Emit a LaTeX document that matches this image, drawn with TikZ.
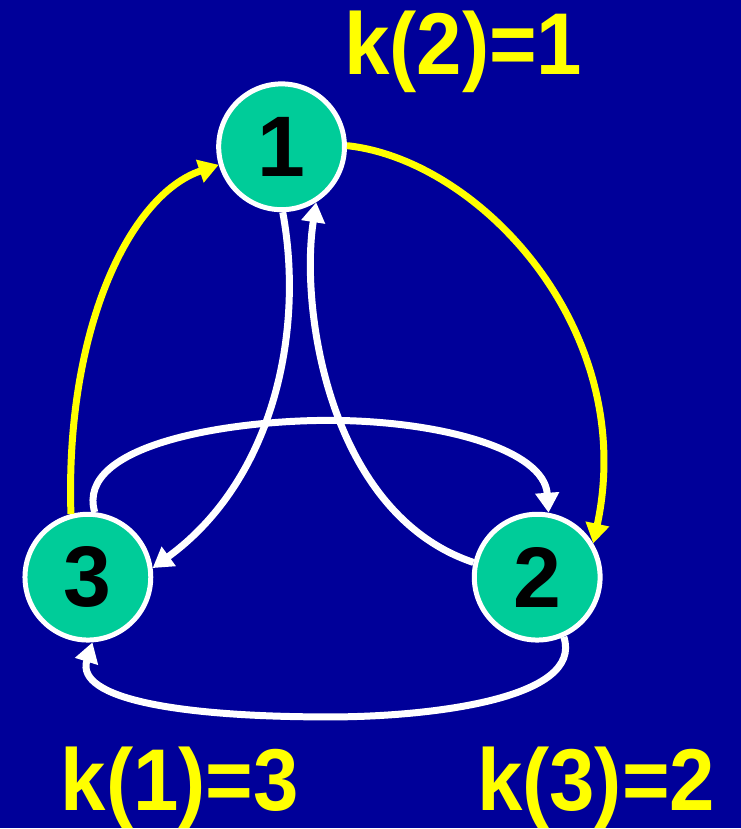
\documentclass[tikz,border=0pt]{standalone}
\definecolor{bgblue}{RGB}{0, 0, 153}
\definecolor{nodegreen}{RGB}{0, 204, 153}
\definecolor{arcyellow}{RGB}{255, 255, 0}
\usepackage{fontspec}
\setmainfont{Liberation Sans}
\usepackage{tikz}
\usetikzlibrary{arrows.meta}

\begin{document}
\begin{tikzpicture}[x=0.02cm, y=-0.02cm,
  vertex/.style={circle, draw=white, line width=0.1cm, fill=nodegreen, minimum size=2.52cm, inner sep=0pt, font=\fontsize{49}{52}\selectfont\bfseries},
  klabel/.style={text=arcyellow, anchor=base, inner sep=0pt, xscale=0.93, transform shape, font=\fontsize{50}{54}\selectfont\bfseries},
  arc/.style={line width=0.14cm, -{Triangle[length=0.40cm, width=0.46cm]}}]
  \fill[bgblue] (0,0) rectangle (742,829);
  % vertices
  \node[vertex] (n1) at (282,147) {1};
  \node[vertex] (n3) at (88,578) {3};
  \node[vertex] (n2) at (538,578) {2};
  % labels
  \node[klabel] (k2) at (464,75) {k(2)=1};
  \node[klabel] (k1) at (180,812) {k(1)=3};
  \node[klabel] (k3) at (597,812) {k(3)=2};
  % yellow cycle
  \draw[arc, arcyellow] (n3.105) .. controls (65,330) and (130,195) .. (n1.196);
  \draw[arc, arcyellow] (n1.1) .. controls (480,160) and (640,330) .. (n2.31);
  % white arcs
  \draw[arc, white] (n1.271) .. controls (305,330) and (275,480) .. (n3.8);
  \draw[arc, white] (n2.167) .. controls (330,515) and (300,310) .. (n1.302);
  \draw[arc, white] (n3.84) .. controls (75,445) and (230,421) .. (329,421)
    .. controls (440,421) and (545,450) .. (n2.80);
  \draw[arc, white] (n2.-66) .. controls (585,700) and (430,718) .. (330,718)
    .. controls (180,718) and (75,700) .. (n3.-86);
\end{tikzpicture}
\end{document}
